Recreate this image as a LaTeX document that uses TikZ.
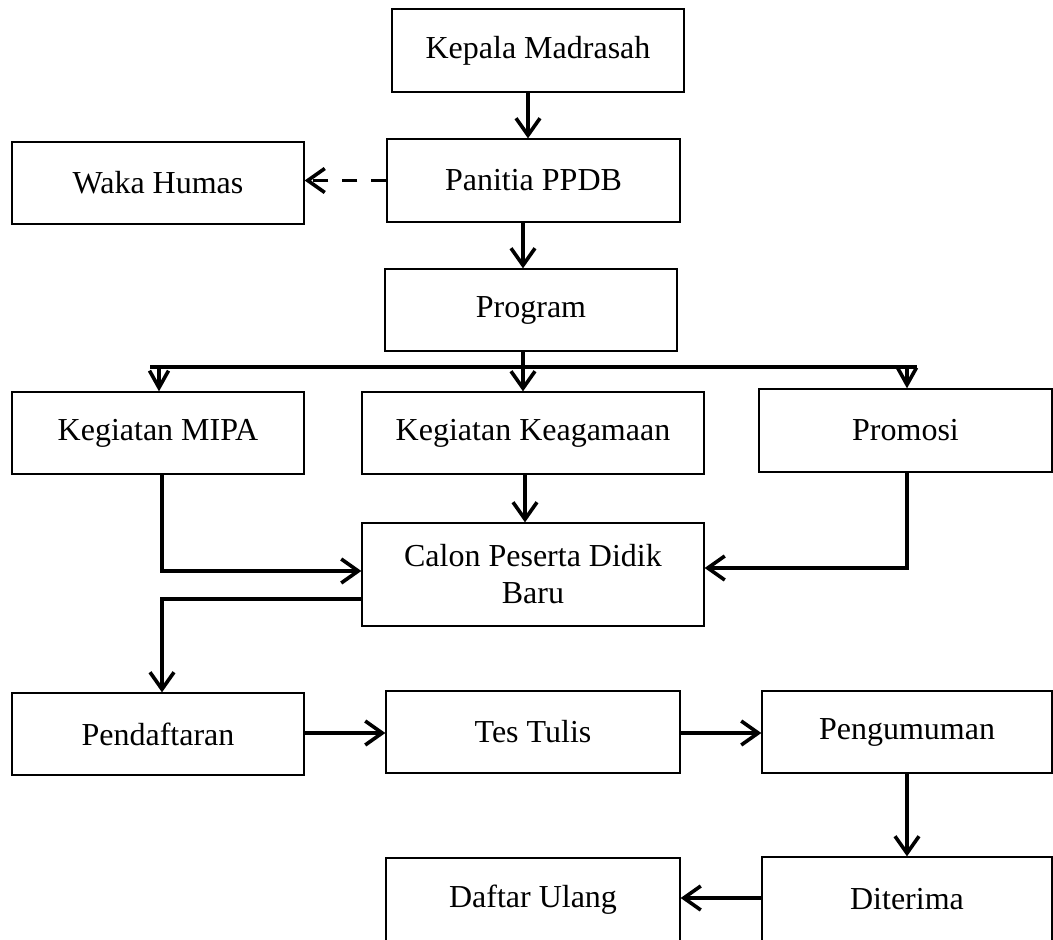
\documentclass[tikz,border=0pt]{standalone}
\usepackage{fontspec}
\setmainfont{Liberation Serif}
\usetikzlibrary{arrows.meta}
\begin{document}
\begin{tikzpicture}[x=1pt,y=-1pt,
  box/.style={draw=black, line width=1.3pt, inner sep=0pt, align=center,
    font=\fontsize{32}{37}\selectfont},
  arr/.style={line width=3.6pt, -{Straight Barb[length=17pt,width=24pt]}},
  sidearr/.style={line width=3.6pt, -{Straight Barb[length=17pt,width=19pt]}},
  conn/.style={line width=3.6pt},
  dasharr/.style={line width=3.6pt, dash pattern=on 15pt off 14pt, -{Straight Barb[length=17pt,width=24pt]}}]
\useasboundingbox (0,0) rectangle (1053,940);
\clip (0,0) rectangle (1053,940);
\node[box, minimum width=292pt, minimum height=83pt] (kepala) at (538,50.5) {Kepala Madrasah};
\node[box, minimum width=293pt, minimum height=83pt] (panitia) at (533.5,180.5) {Panitia PPDB};
\node[box, minimum width=292pt, minimum height=82pt] (waka) at (158,183) {Waka Humas};
\node[box, minimum width=292pt, minimum height=82pt] (program) at (531,310) {Program};
\node[box, minimum width=292pt, minimum height=82pt] (mipa) at (158,433) {Kegiatan MIPA};
\node[box, minimum width=342pt, minimum height=82pt] (agama) at (533,433) {Kegiatan Keagamaan};
\node[box, minimum width=293pt, minimum height=83pt] (promosi) at (905.5,430.5) {Promosi};
\node[box, minimum width=342pt, minimum height=103pt] (calon) at (533,574.5) {Calon Peserta Didik\\Baru};
\node[box, minimum width=292pt, minimum height=82pt] (daftar) at (158,734) {Pendaftaran};
\node[box, minimum width=294pt, minimum height=82pt] (tes) at (533,732) {Tes Tulis};
\node[box, minimum width=290pt, minimum height=82pt] (umum) at (907,732) {Pengumuman};
\node[box, minimum width=294pt, minimum height=84pt] (ulang) at (533,900) {Daftar Ulang};
\node[box, minimum width=290pt, minimum height=84pt] (terima) at (907,899) {Diterima};
\coordinate (bl) at (150,367);
\coordinate (br) at (917,367);
\coordinate (jl) at (159,367);
\coordinate (jc) at (523,367);
\coordinate (jr) at (907,367);
% connectors
\draw[arr] (kepala.south -| 528,0) -- (panitia.north -| 528,0);
\draw[arr] (panitia.south -| 523,0) -- (program.north -| 523,0);
\draw[dasharr] (panitia.west) -- (panitia.west -| waka.east);
\draw[conn] (bl) -- (br);
\draw[arr] (program.south -| jc) -- (agama.north -| jc);
\draw[sidearr] (jl) -- (mipa.north -| jl);
\draw[sidearr] (jr) -- (promosi.north -| jr);
\draw[arr] (mipa.south -| 162,0) |- (calon.west |- 0,571);
\draw[arr] (agama.south -| 525,0) -- (calon.north -| 525,0);
\draw[arr] (promosi.south -| 907,0) |- (calon.east |- 0,568);
\draw[arr] (calon.west |- 0,599) -| (daftar.north -| 162,0);
\draw[arr] (daftar.east |- 0,733) -- (tes.west |- 0,733);
\draw[arr] (tes.east |- 0,733) -- (umum.west |- 0,733);
\draw[arr] (umum.south) -- (terima.north);
\draw[arr] (terima.west |- 0,898) -- (ulang.east |- 0,898);
\end{tikzpicture}
\end{document}
